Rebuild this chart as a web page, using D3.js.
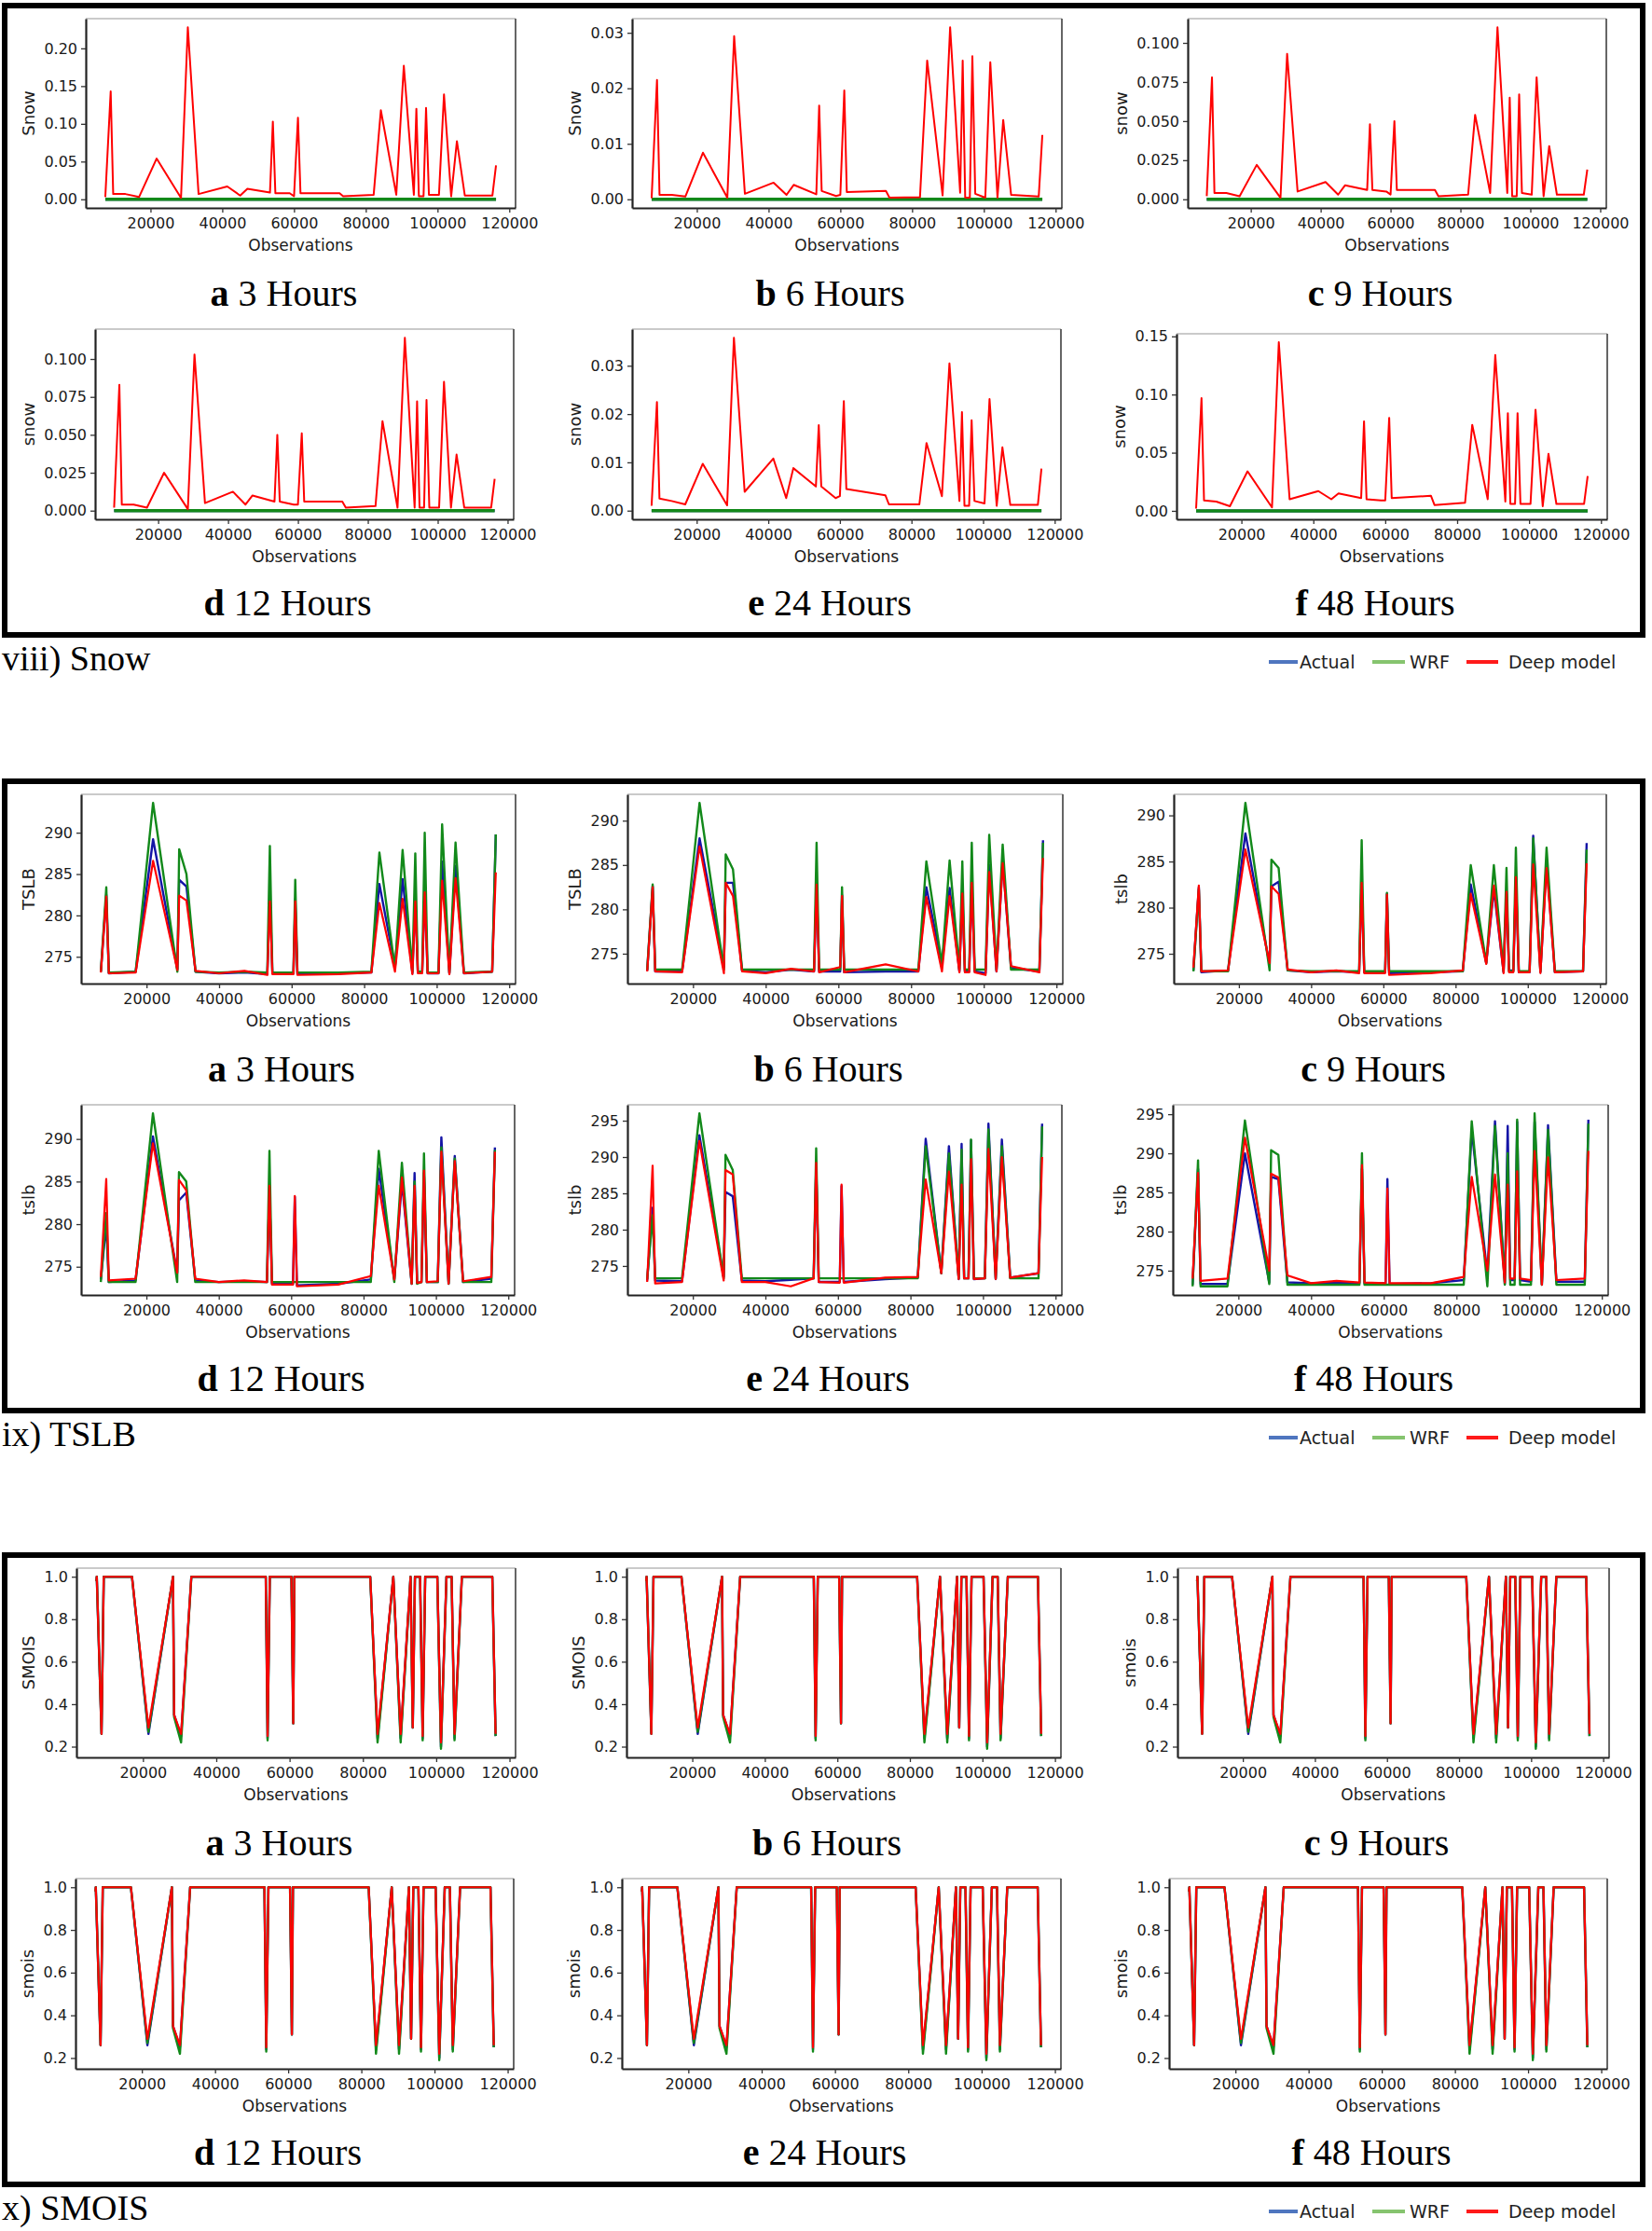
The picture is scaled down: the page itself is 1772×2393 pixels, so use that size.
<!DOCTYPE html>
<html><head><meta charset="utf-8">
<script src="https://cdn.jsdelivr.net/npm/d3@7"></script>
<style>body{margin:0;background:#fff}</style>
</head><body><script>
// ---------------- DATA ----------------
const letters = ["a","b","c","d","e","f"];
const horizons = ["3 Hours","6 Hours","9 Hours","12 Hours","24 Hours","48 Hours"];
const xTicks = [20000,40000,60000,80000,100000,120000];
const seriesNames = ["Actual","WRF","Deep model"];
const sectionTitles = ["viii) Snow","ix) TSLB","x) SMOIS"];

// Snow
const snowYLabels = ["Snow","Snow","snow","snow","snow","snow"];
const snowX = [7400,8900,9600,13000,16800,21700,28500,30400,33400,41400,45000,47000,53300,54100,54800,58800,60000,61100,61800,72700,73700,82200,84200,88500,90600,93400,94100,94800,96100,96800,97600,100400,101800,103800,105400,107600,115300,116300];
const snowFlatX = [7400,116300];
const snowActual = [0,0];
const snowWRF = [0,0];
const snowDeep3h  = [0.003,0.143,0.007,0.007,0.003,0.054,0.002,0.228,0.007,0.017,0.005,0.014,0.009,0.103,0.008,0.008,0.004,0.108,0.008,0.008,0.004,0.006,0.118,0.006,0.177,0.006,0.120,0.004,0.004,0.121,0.006,0.006,0.139,0.004,0.077,0.005,0.005,0.045];
const snowDeep6h  = [0.0002,0.0215,0.0008,0.0008,0.0005,0.0084,0.0003,0.0294,0.0010,0.0030,0.0008,0.0026,0.0009,0.0169,0.0015,0.0006,0.0008,0.0196,0.0013,0.0015,0.0003,0.0004,0.0250,0.0007,0.0310,0.0012,0.0250,0.0003,0.0003,0.0258,0.0010,0.0003,0.0247,0.0003,0.0143,0.0008,0.0005,0.0116];
const snowDeep9h  = [0.002,0.078,0.004,0.004,0.002,0.022,0.001,0.093,0.005,0.011,0.003,0.009,0.006,0.048,0.006,0.005,0.003,0.050,0.006,0.006,0.002,0.003,0.054,0.004,0.110,0.004,0.065,0.002,0.002,0.067,0.004,0.003,0.078,0.002,0.034,0.003,0.003,0.019];
const snowDeep12h = [0.002,0.083,0.004,0.004,0.002,0.025,0.001,0.103,0.005,0.0125,0.004,0.010,0.006,0.050,0.006,0.004,0.004,0.051,0.006,0.006,0.002,0.003,0.059,0.002,0.114,0.002,0.072,0.002,0.002,0.073,0.002,0.002,0.085,0.002,0.037,0.002,0.002,0.021];
const snowDeep24h = [0.001,0.0225,0.0025,0.002,0.0013,0.0097,0.0011,0.0358,0.0039,0.0108,0.0026,0.0088,0.005,0.0177,0.005,0.0026,0.003,0.0227,0.0045,0.0032,0.0013,0.0013,0.014,0.003,0.0305,0.002,0.0204,0.001,0.001,0.0187,0.002,0.0015,0.0231,0.001,0.0131,0.0012,0.0012,0.0087];
const snowDeep48h = [0.002,0.097,0.009,0.008,0.004,0.034,0.003,0.145,0.010,0.017,0.010,0.015,0.011,0.077,0.010,0.009,0.009,0.080,0.011,0.013,0.005,0.007,0.074,0.010,0.134,0.008,0.084,0.006,0.006,0.084,0.006,0.006,0.087,0.004,0.049,0.006,0.006,0.030];
const snowYTicks = [
  [0,0.05,0.10,0.15,0.20],[0,0.01,0.02,0.03],[0,0.025,0.05,0.075,0.1],
  [0,0.025,0.05,0.075,0.1],[0,0.01,0.02,0.03],[0,0.05,0.10,0.15]];
const snowYTickLabels = [
  ["0.00","0.05","0.10","0.15","0.20"],["0.00","0.01","0.02","0.03"],["0.000","0.025","0.050","0.075","0.100"],
  ["0.000","0.025","0.050","0.075","0.100"],["0.00","0.01","0.02","0.03"],["0.00","0.05","0.10","0.15"]];

// TSLB
const tslbYLabels = ["TSLB","TSLB","tslb","tslb","tslb","tslb"];
const tslbX = [7400,8900,9600,17000,21800,28500,29000,31000,33500,40000,47000,53300,54000,54700,60500,61000,61600,73000,82000,84200,88500,90600,93300,94100,94800,96000,96700,97500,100500,101500,103500,105200,107500,115300,116300];
const tslbWRF3h    = [273.2,283.4,273.1,273.2,293.6,273.2,288.0,285.0,273.2,273.1,273.2,273.1,288.4,273.1,273.1,284.3,273.1,273.1,273.2,287.6,273.6,287.9,273.2,287.5,273.2,273.2,290.0,273.1,273.1,291.0,273.1,288.8,273.1,273.2,289.8];
const tslbActual3h = [273.2,282.5,273.0,273.2,289.2,273.5,284.3,283.5,273.2,273.0,273.1,272.9,283.0,273.0,273.0,282.0,272.9,273.0,273.1,283.8,273.8,284.4,273.0,282.0,273.2,273.2,283.0,273.0,273.0,286.5,273.0,286.0,273.0,273.2,289.8];
const tslbDeep3h   = [273.1,282.3,273.0,273.1,286.6,273.4,282.4,281.8,273.3,273.0,273.3,272.8,281.7,272.9,272.9,281.7,272.8,272.9,273.1,281.5,273.2,282.0,272.9,281.7,273.0,273.0,282.8,273.0,273.0,284.2,272.9,284.5,273.0,273.2,285.2];
const tslbWRF6h    = [273.2,282.8,273.2,273.2,292.0,273.2,286.2,284.5,273.2,273.2,273.2,273.2,287.5,273.2,273.2,282.5,273.2,273.2,273.2,285.4,273.8,285.5,273.2,285.4,273.2,273.2,287.5,273.2,273.2,288.4,273.2,287.3,273.2,273.2,287.5];
const tslbActual6h = [273.1,282.6,273.0,273.0,288.0,273.5,283.0,283.0,273.1,272.9,273.2,273.0,283.0,273.0,273.0,281.6,272.9,273.0,273.0,282.5,273.8,282.4,273.0,282.0,273.0,273.0,283.0,273.0,272.8,285.0,273.0,285.5,273.4,273.0,287.8];
const tslbDeep6h   = [273.0,282.5,273.0,272.9,287.1,272.8,283.0,281.5,273.0,272.8,273.3,273.0,282.8,272.9,273.5,281.5,272.9,273.8,273.0,281.4,273.0,281.5,272.9,281.8,272.9,272.9,283.0,272.9,272.6,284.2,273.0,285.2,273.6,272.9,285.8];
const tslbWRF9h    = [273.1,282.0,273.1,273.1,291.35,273.2,285.2,284.3,273.2,273.1,273.1,273.1,287.3,273.1,273.1,281.6,273.1,273.1,273.1,284.6,274.0,284.6,273.1,284.3,273.1,273.1,286.5,273.1,273.1,287.5,273.1,286.5,273.1,273.1,286.3];
const tslbActual9h = [273.2,282.2,273.0,273.2,288.05,273.8,282.3,282.8,273.2,273.0,273.1,273.0,283.0,273.0,273.0,281.5,272.9,273.0,273.1,282.5,274.0,282.0,273.0,281.8,273.2,273.2,283.3,273.0,273.0,287.8,273.0,285.0,273.0,273.1,287.0];
const tslbDeep9h   = [273.5,282.4,273.1,273.2,286.3,274.0,282.3,281.5,273.3,273.0,273.2,272.9,282.7,272.9,272.9,281.4,272.7,272.9,273.2,281.5,273.9,282.4,272.9,281.7,273.0,273.0,283.3,273.0,273.0,284.7,272.9,284.3,273.0,273.1,284.8];
const tslbWRF12h    = [273.2,281.3,273.2,273.2,293.0,273.2,286.1,285.0,273.2,273.2,273.2,273.2,288.6,273.2,273.2,273.2,273.2,273.2,273.2,288.6,273.2,287.2,273.0,285.0,273.0,273.2,288.3,273.2,273.2,289.0,273.0,287.7,273.2,273.2,288.7];
const tslbActual12h = [273.5,280.0,273.2,273.4,290.3,274.3,282.8,283.7,273.4,273.2,273.3,273.2,284.0,273.0,273.0,283.2,272.8,273.0,273.5,286.5,273.5,285.0,273.0,286.0,273.1,273.2,286.0,273.2,273.2,290.2,273.0,288.0,273.2,273.6,289.0];
const tslbDeep12h   = [273.8,285.3,273.4,273.6,289.5,274.3,285.2,284.0,273.6,273.2,273.4,273.2,284.5,272.9,272.9,283.3,272.7,272.9,273.9,284.5,273.5,285.5,273.0,284.5,273.1,273.2,286.3,273.2,273.3,288.5,273.0,287.4,273.3,273.8,288.5];
const tslbWRF24h    = [273.2,282.0,273.3,273.3,296.0,273.3,290.3,288.2,273.3,273.3,273.3,273.3,291.2,273.3,273.3,273.3,273.3,273.3,273.3,291.5,274.0,290.5,273.3,291.0,273.3,273.3,292.4,273.3,273.3,293.8,273.3,291.5,273.3,273.3,294.2];
const tslbActual24h = [273.0,283.0,273.0,272.9,293.0,273.5,285.2,284.6,273.0,272.9,273.1,273.3,289.0,272.8,272.8,286.0,272.8,273.2,273.4,292.5,274.0,291.5,273.2,291.8,273.3,273.3,292.3,273.2,273.3,294.6,273.2,292.4,273.4,274.0,294.6];
const tslbDeep24h   = [272.8,288.8,272.6,272.8,292.2,273.0,288.2,287.6,272.8,272.8,272.2,273.3,289.2,272.8,272.7,286.2,272.7,273.4,273.5,286.9,274.0,288.0,273.2,286.2,273.3,273.3,289.7,273.2,273.3,291.1,273.2,290.0,273.4,274.0,290.0];
const tslbWRF48h    = [273.0,289.1,273.0,273.0,294.2,273.3,290.4,289.8,273.2,273.2,273.2,273.2,290.0,273.2,273.2,273.2,273.2,273.2,273.2,294.1,273.0,293.5,273.2,290.0,273.2,273.2,294.3,273.2,273.2,295.1,273.2,293.0,273.2,273.2,293.8];
const tslbActual48h = [273.2,288.0,273.3,273.3,290.0,273.5,287.0,286.7,273.5,273.4,273.5,273.4,288.0,273.4,273.4,286.7,273.3,273.4,273.8,293.0,274.5,294.1,273.3,293.5,273.8,273.8,294.0,273.8,273.6,294.0,273.2,293.6,273.6,273.6,294.3];
const tslbDeep48h   = [274.0,287.5,273.7,274.0,292.0,275.0,287.4,286.9,274.4,273.4,273.7,273.5,288.5,273.5,273.4,285.5,273.4,273.4,274.2,287.0,275.0,287.3,273.5,286.0,274.0,274.0,287.7,274.0,273.8,290.3,273.2,289.5,273.8,274.0,290.3];
const tslbYTicks = [[275,280,285,290],[275,280,285,290],[275,280,285,290],[275,280,285,290],[275,280,285,290,295],[275,280,285,290,295]];

// SMOIS
const smoisYLabels = ["SMOIS","SMOIS","smois","smois","smois","smois"];
const smoisX = [7300,7400,8700,9300,17000,21500,28200,28500,30400,33200,53500,54000,54600,60500,61000,61300,82000,84000,88300,90300,93000,93600,94200,95600,96300,97000,100300,101300,102800,104200,105000,107000,115300,116200];
const smoisActual = [0.98,1.0,0.26,1.0,1.0,0.26,1.0,0.35,0.25,1.0,1.0,0.24,1.0,1.0,0.31,1.0,1.0,0.24,1.0,0.24,1.0,0.29,1.0,1.0,0.24,1.0,1.0,0.20,1.0,1.0,0.24,1.0,1.0,0.25];
const smoisWRF    = [0.98,1.0,0.26,1.0,1.0,0.27,1.0,0.34,0.22,1.0,1.0,0.23,1.0,1.0,0.31,1.0,1.0,0.22,1.0,0.22,1.0,0.29,1.0,1.0,0.23,1.0,1.0,0.19,1.0,1.0,0.23,1.0,1.0,0.25];
const smoisDeep   = [0.98,1.0,0.26,1.0,1.0,0.29,1.0,0.35,0.26,1.0,1.0,0.25,1.0,1.0,0.31,1.0,1.0,0.26,1.0,0.26,1.0,0.29,1.0,1.0,0.25,1.0,1.0,0.22,1.0,1.0,0.26,1.0,1.0,0.26];
const smoisYTicks = [0.2,0.4,0.6,0.8,1.0];
const smoisYTickLabels = ["0.2","0.4","0.6","0.8","1.0"];

// ---------------- LAYOUT / STYLE ----------------
const W = 1772, H = 2393;
const COL = {actual:"#1414a6", wrf:"#12891a", deep:"#ff0000"};
const LEG = {actual:"#4f76bf", wrf:"#86c46f", deep:"#ff1a1a"};
const boxTops = [6, 838, 1668];
const rowTop = [14, 347], rowBottom = [217, 551];
const colRects = [
  [[92,553],[678,1139],[1274,1723],[102,551],[678,1138],[1262,1724]],
  [[87,553],[673,1140],[1259,1723],[87,552],[673,1139],[1258,1725]],
  [[82,553],[672,1138],[1263,1726],[81,551],[667,1138],[1254,1724]]
];
const topAdj = [[0,0,0,0,0,5],[0,0,0,0,0,0],[0,0,0,0,0,0]];

const svg = d3.select("body").append("svg").attr("width",W).attr("height",H)
  .style("background","#fff");

function pad(ext){const r = ext[1]-ext[0]; return [ext[0]-0.05*r, ext[1]+0.05*r];}

function drawPanel(sec, i, series, yTicks, yTickLabels, yLabel){
  const bt = boxTops[sec];
  const row = i < 3 ? 0 : 1;
  const [left,right] = colRects[sec][i];
  const top = bt + rowTop[row] + topAdj[sec][i];
  const bottom = bt + rowBottom[row];
  const x = d3.scaleLinear().domain(pad(d3.extent(series.flatMap(s=>s.x)))).range([left,right]);
  const y = d3.scaleLinear().domain(pad(d3.extent(series.flatMap(s=>s.y)))).range([bottom,top]);
  const g = svg.append("g");
  series.forEach(s=>{
    const line = d3.line().x((d,k)=>x(s.x[k])).y(d=>y(d));
    g.append("path").attr("d", line(s.y)).attr("fill","none")
      .attr("stroke", s.color).attr("stroke-width", s.width).attr("stroke-linejoin","round");
  });
  // spines
  g.append("line").attr("x1",left).attr("x2",right).attr("y1",top).attr("y2",top).attr("stroke","#b8b8b8").attr("stroke-width",1.5);
  g.append("line").attr("x1",right).attr("x2",right).attr("y1",top).attr("y2",bottom).attr("stroke","#555").attr("stroke-width",1.8);
  const xa = g.append("g").attr("transform",`translate(0,${bottom})`)
    .call(d3.axisBottom(x).tickValues(xTicks).tickFormat(d3.format("d")).tickSize(5).tickSizeOuter(0).tickPadding(6));
  const ya = g.append("g").attr("transform",`translate(${left},0)`)
    .call(d3.axisLeft(y).tickValues(yTicks).tickFormat((d,k)=>yTickLabels[k]).tickSize(5).tickSizeOuter(0).tickPadding(4));
  [xa,ya].forEach(a=>{
    a.select(".domain").attr("stroke","#222").attr("stroke-width",2.2);
    a.selectAll(".tick line").attr("stroke","#333").attr("stroke-width",1.3);
    a.selectAll("text").attr("font-family","DejaVu Sans").attr("font-size",16).attr("fill","#1a1a1a");
  });
  let maxW = 0;
  ya.selectAll("text").each(function(){ maxW = Math.max(maxW, this.getBBox().width); });
  g.append("text").attr("x",(left+right)/2).attr("y",bottom+46).attr("text-anchor","middle")
    .attr("font-family","DejaVu Sans").attr("font-size",17).attr("fill","#1a1a1a").text("Observations");
  const lx = left - 9 - maxW - 17, ly = (top+bottom)/2;
  g.append("text").attr("transform",`translate(${lx},${ly}) rotate(-90)`).attr("dy","0.35em")
    .attr("text-anchor","middle").attr("font-family","DejaVu Sans").attr("font-size",18).attr("fill","#1a1a1a").text(yLabel);
  // panel caption
  const cap = g.append("text").attr("x",(left+right)/2 - 18).attr("y", bt + (row===0?322:654))
    .attr("text-anchor","middle").attr("font-family","Liberation Serif").attr("font-size",40).attr("fill","#000");
  cap.append("tspan").attr("font-weight","bold").text(letters[i]);
  cap.append("tspan").text("\u00a0" + horizons[i]);
}

function drawFrame(sec){
  const bt = boxTops[sec];
  svg.append("rect").attr("x",5).attr("y",bt).attr("width",1757).attr("height",675)
    .attr("fill","none").attr("stroke","#000").attr("stroke-width",6);
  svg.append("text").attr("x",2).attr("y",bt+713).attr("font-family","Liberation Serif")
    .attr("font-size",38).attr("fill","#000").text(sectionTitles[sec]);
  const ly = bt + 704;
  const items = [
    {name:seriesNames[0], c:LEG.actual, x1:1361, x2:1392, tx:1394},
    {name:seriesNames[1], c:LEG.wrf, x1:1472, x2:1507, tx:1512},
    {name:seriesNames[2], c:LEG.deep, x1:1573, x2:1607, tx:1618}
  ];
  items.forEach(it=>{
    svg.append("line").attr("x1",it.x1).attr("x2",it.x2).attr("y1",ly).attr("y2",ly)
      .attr("stroke",it.c).attr("stroke-width",4);
    svg.append("text").attr("x",it.tx).attr("y",ly+7).attr("font-family","DejaVu Sans")
      .attr("font-size",19).attr("fill","#222").text(it.name);
  });
}

// ---------------- BUILD ----------------
const snowDeep = [snowDeep3h,snowDeep6h,snowDeep9h,snowDeep12h,snowDeep24h,snowDeep48h];
const tslbWRF = [tslbWRF3h,tslbWRF6h,tslbWRF9h,tslbWRF12h,tslbWRF24h,tslbWRF48h];
const tslbActual = [tslbActual3h,tslbActual6h,tslbActual9h,tslbActual12h,tslbActual24h,tslbActual48h];
const tslbDeep = [tslbDeep3h,tslbDeep6h,tslbDeep9h,tslbDeep12h,tslbDeep24h,tslbDeep48h];

[0,1,2].forEach(drawFrame);
for (let i=0;i<6;i++){
  drawPanel(0, i, [
    {x:snowFlatX, y:snowActual, color:COL.actual, width:3},
    {x:snowFlatX, y:snowWRF, color:COL.wrf, width:3.5},
    {x:snowX, y:snowDeep[i], color:COL.deep, width:2}
  ], snowYTicks[i], snowYTickLabels[i], snowYLabels[i]);
  drawPanel(1, i, [
    {x:tslbX, y:tslbActual[i], color:COL.actual, width:2.4},
    {x:tslbX, y:tslbWRF[i], color:COL.wrf, width:2.4},
    {x:tslbX, y:tslbDeep[i], color:COL.deep, width:2.2}
  ], tslbYTicks[i], tslbYTicks[i].map(String), tslbYLabels[i]);
  drawPanel(2, i, [
    {x:smoisX, y:smoisActual, color:COL.actual, width:2.4},
    {x:smoisX, y:smoisWRF, color:COL.wrf, width:2.4},
    {x:smoisX, y:smoisDeep, color:COL.deep, width:2.2}
  ], smoisYTicks, smoisYTickLabels, smoisYLabels[i]);
}
</script></body></html>
